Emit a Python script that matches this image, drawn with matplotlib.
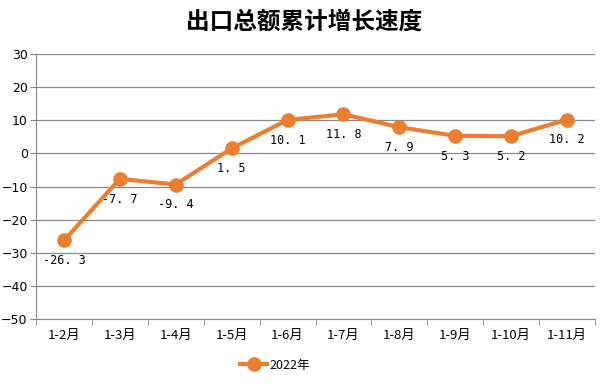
import numpy as np
import matplotlib.pyplot as plt

plt.rcParams['font.family'] = ['DejaVu Sans', 'Noto Sans CJK SC']

months = ['1-2月', '1-3月', '1-4月', '1-5月', '1-6月', '1-7月', '1-8月', '1-9月', '1-10月', '1-11月']
growth = [-26.3, -7.7, -9.4, 1.5, 10.1, 11.8, 7.9, 5.3, 5.2, 10.2]
series_name = '2022年'
orange = '#ED7D31'

fig = plt.figure(figsize=(6.08, 3.84), dpi=100)
ax = fig.add_axes([36/608, 1 - 319/384, 559/608, 265/384])

x = np.arange(len(months))
ax.plot(x, growth, color=orange, lw=3, marker='o', ms=9.5, label=series_name, zorder=3)
for xi, v in zip(x, growth):
    ax.annotate(f'{v:.1f}'.replace('.', '. '), (xi, v), xytext=(0, -10), textcoords='offset points',
                ha='center', va='top', fontsize=8.5, family=['DejaVu Sans Mono'])

ax.set_xlim(-0.5, len(months) - 0.5)
ax.set_ylim(-50, 30)
ax.set_yticks(range(-50, 31, 10))
ax.set_xticks(x)
ax.set_xticklabels(months, fontsize=9.5, family=['Noto Sans CJK SC', 'DejaVu Sans'])
ax.set_xticks(np.arange(-0.5, len(months)), minor=True)
ax.tick_params(axis='x', which='major', length=0, pad=7)
ax.tick_params(axis='x', which='minor', length=4, color='#888888')
ax.tick_params(axis='y', length=4, color='#888888', labelsize=9, pad=2)
ax.yaxis.grid(True, color='#888888', lw=0.9)
ax.set_axisbelow(True)
for s in ['top', 'right']:
    ax.spines[s].set_visible(False)
for s in ['left', 'bottom']:
    ax.spines[s].set_color('#888888')

fig.text(0.5, 1 - 22/384, '出口总额累计增长速度', ha='center', va='center', fontsize=17,
         fontweight='bold', family=['Noto Sans CJK SC'])
fig.legend(loc='center', bbox_to_anchor=(275/608, 1 - 365/384), frameon=False,
           handlelength=2.2, handletextpad=0.2, prop={'family': ['Noto Sans CJK SC', 'DejaVu Sans'], 'size': 9})

fig.savefig('out.png', dpi=100)
